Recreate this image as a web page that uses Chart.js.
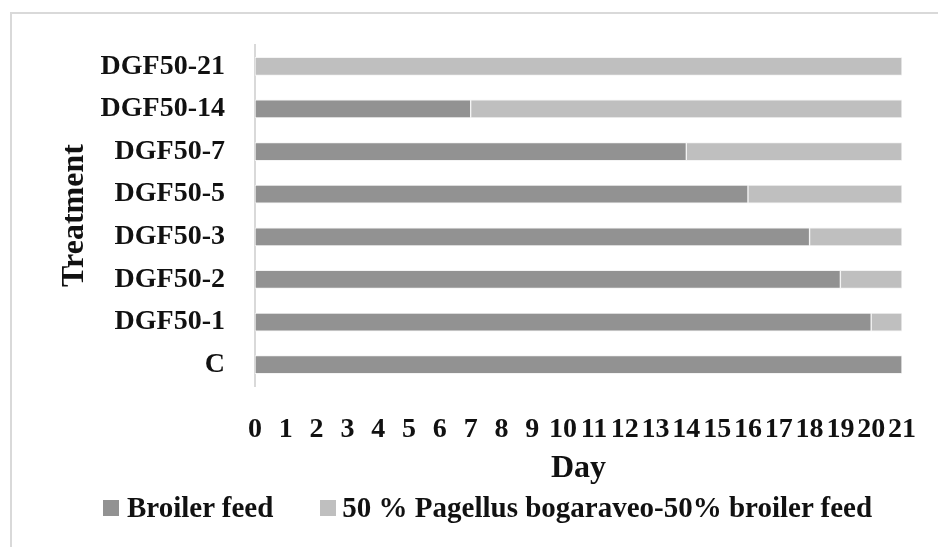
<!DOCTYPE html>
<html>
<head>
<meta charset="utf-8">
<script src="https://cdn.jsdelivr.net/npm/chart.js@4"></script>
<style>
    body { margin: 0; background: #fff; }
    #wrap { position: relative; width: 938px; height: 547px; overflow: hidden; }
    #frame { position: absolute; left: 10px; top: 12px; width: 1000px; height: 600px;
             border-top: 2px solid #d9d9d9; border-left: 2px solid #d9d9d9; }
    canvas { position: absolute; left: 0; top: 0; }
    #legend { position: absolute; left: 103px; top: 491px; display: flex; align-items: center;
              font: bold 29px "Liberation Serif", "DejaVu Serif", serif; color: #111; white-space: nowrap; }
    .item { display: flex; align-items: center; }
    .swatch { width: 16px; height: 16px; display: inline-block; }
</style>
</head>
<body>
<div id="wrap">
    <div id="frame"></div>
    <canvas id="feedChart" width="938" height="547"></canvas>
    <div id="legend"></div>
</div>
<script>
// Treatments, top to bottom
const treatments = ['DGF50-21', 'DGF50-14', 'DGF50-7', 'DGF50-5', 'DGF50-3', 'DGF50-2', 'DGF50-1', 'C'];

// Days on each feed
const broilerFeed = [0, 7, 14, 16, 18, 19, 20, 21];
const fishFeed = [21, 14, 7, 5, 3, 2, 1, 0];

// Day axis
const dayMin = 0;
const dayMax = 21;

const serif = '"Liberation Serif", "DejaVu Serif", serif';

const ctx = document.getElementById('feedChart').getContext('2d');
const feedChart = new Chart(ctx, {
    type: 'bar',
    data: {
        labels: treatments,
        datasets: [
            {
                label: 'Broiler feed',
                data: broilerFeed,
                backgroundColor: '#929292',
                borderColor: '#f4f4f4',
                borderWidth: 1,
                borderSkipped: false,
                barThickness: 18
            },
            {
                label: '50 % Pagellus bogaraveo-50% broiler feed',
                data: fishFeed,
                backgroundColor: '#bfbfbf',
                borderColor: '#f4f4f4',
                borderWidth: 1,
                borderSkipped: false,
                barThickness: 18
            }
        ]
    },
    options: {
        indexAxis: 'y',
        responsive: false,
        animation: false,
        layout: { padding: { top: 45, right: 0, bottom: 59, left: 56 } },
        plugins: {
            legend: { display: false },
            tooltip: { enabled: false }
        },
        scales: {
            x: {
                stacked: true,
                min: dayMin,
                max: dayMax,
                grid: { display: false },
                border: { display: false },
                ticks: {
                    stepSize: 1,
                    padding: 19,
                    maxRotation: 0,
                    autoSkip: false,
                    color: '#111',
                    font: { family: serif, size: 28, weight: 'bold' }
                },
                title: {
                    display: true,
                    text: 'Day',
                    color: '#111',
                    padding: 0,
                    font: { family: serif, size: 32, weight: 'bold', lineHeight: 1.2 }
                },
                afterFit: function(scale) {
                    scale.height = 102;
                    scale.paddingRight = 36;
                }
            },
            y: {
                stacked: true,
                grid: { display: false },
                border: { display: true, color: '#d9d9d9', width: 2 },
                ticks: {
                    padding: 22,
                    color: '#111',
                    font: { family: serif, size: 28, weight: 'bold' }
                },
                title: {
                    display: true,
                    text: 'Treatment',
                    color: '#111',
                    padding: 0,
                    font: { family: serif, size: 32, weight: 'bold', lineHeight: 1.2 }
                },
                afterFit: function(scale) {
                    scale.width = 255 - 56;
                }
            }
        }
    }
});

// Legend built from the datasets
const legend = document.getElementById('legend');
const textGaps = [8, 6];
feedChart.data.datasets.forEach((ds, i) => {
    const item = document.createElement('span');
    item.className = 'item';
    if (i > 0) item.style.marginLeft = '47px';

    const swatch = document.createElement('span');
    swatch.className = 'swatch';
    swatch.style.background = ds.backgroundColor;
    swatch.style.marginRight = textGaps[i] + 'px';
    item.appendChild(swatch);

    const text = document.createElement('span');
    text.textContent = ds.label;
    item.appendChild(text);

    legend.appendChild(item);
});
</script>
</body>
</html>
